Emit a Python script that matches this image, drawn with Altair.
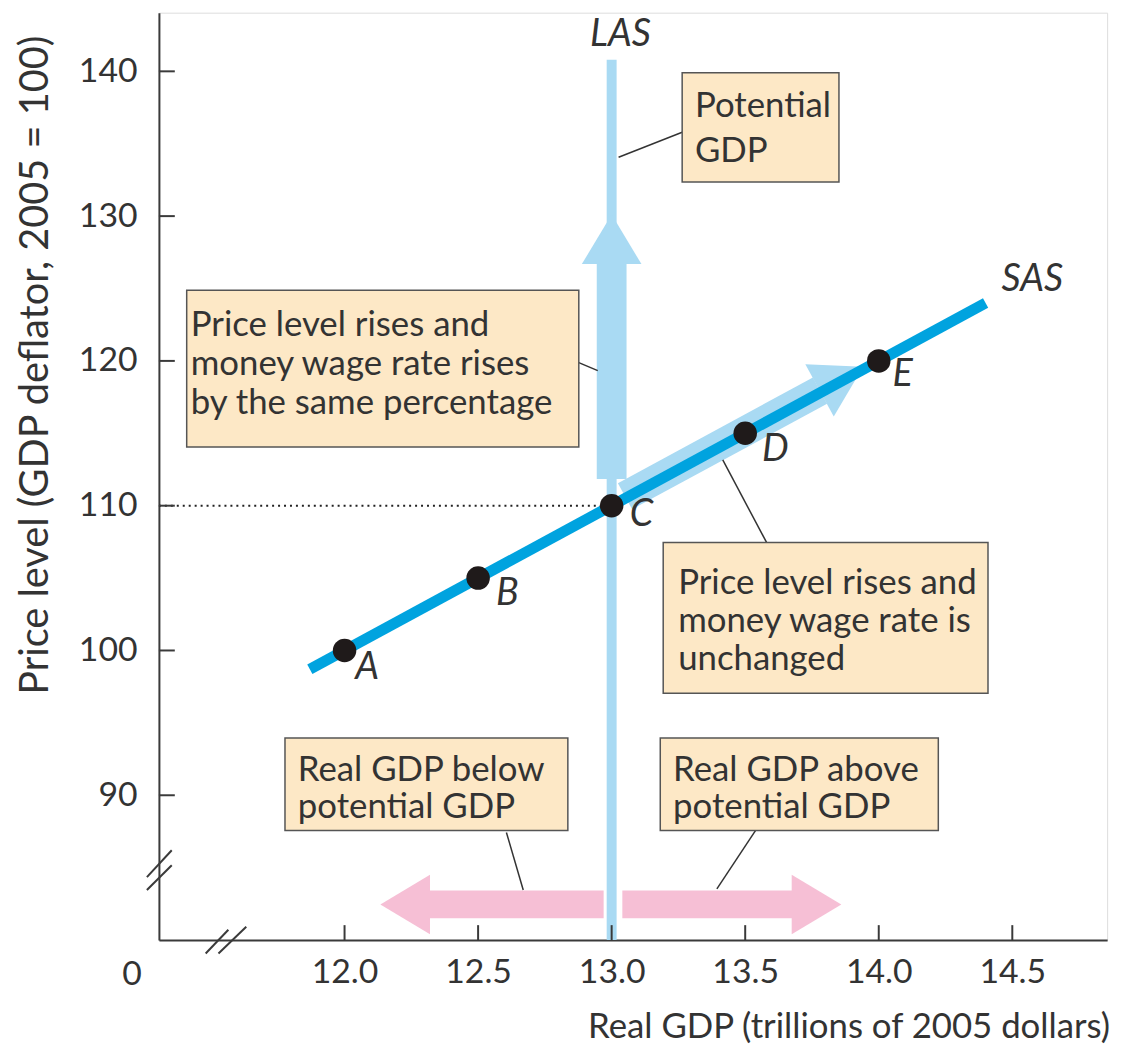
import altair as alt
import pandas as pd

# ---------------- data ----------------
point_labels = ["A", "B", "C", "D", "E"]
point_gdp = [12.0, 12.5, 13.0, 13.5, 14.0]
point_price = [100, 105, 110, 115, 120]

sas_gdp = [11.87, 14.40]
sas_price = [98.7, 124.0]

las_gdp = [13.0, 13.0]
las_price = [80.0, 140.8]

x_ticks = [12.0, 12.5, 13.0, 13.5, 14.0, 14.5]
y_ticks = [90, 100, 110, 120, 130, 140]

# label positions (data space)
lab_x = [12.085, 12.61, 13.112, 13.613, 14.089]
lab_y = [98.75, 103.9, 109.38, 113.84, 119.05]

curve_names = ["LAS", "SAS"]
curve_lab_x = [13.033, 14.575]
curve_lab_y = [142.5, 125.6]

# annotation boxes
box_x = [13.264, 11.409, 13.193, 11.777, 13.182]
box_x2 = [13.851, 12.877, 14.409, 12.836, 14.223]
box_y = [139.9, 124.88, 107.46, 93.95, 93.95]
box_y2 = [132.36, 114.05, 97.04, 87.57, 87.57]

box_lines = [
    "Potential", "GDP",
    "Price level rises and", "money wage rate rises", "by the same percentage",
    "Price level rises and", "money wage rate is", "unchanged",
    "Real GDP below", "potential GDP",
    "Real GDP above", "potential GDP",
]
box_line_x = [13.312, 13.312,
              11.424, 11.424, 11.424,
              13.249, 13.249, 13.249,
              11.825, 11.825,
              13.230, 13.230]
box_line_y = [136.82, 133.73,
              121.73, 119.05, 116.36,
              103.90, 101.29, 98.68,
              91.00, 88.40,
              91.00, 88.40]

# leader lines
lead_x = [13.026, 12.877, 13.416, 12.606, 13.539]
lead_y = [134.07, 119.88, 113.16, 87.43, 87.57]
lead_x2 = [13.264, 12.948, 13.580, 12.669, 13.394]
lead_y2 = [135.79, 119.33, 107.46, 83.46, 83.53]

# ---------------- styling ----------------
FONT = "Lato"
TXT = "#333333"
AX = "#3a3a3a"
SAS_BLUE = "#00a3df"
LIGHT_BLUE = "#a9daf3"
PINK = "#f6bfd5"
BOX_FILL = "#fde8c6"

x_scale = alt.Scale(domain=[11.305, 14.855], nice=False, zero=False)
y_scale = alt.Scale(domain=[80, 144.05], nice=False, zero=False)

x_axis = alt.Axis(values=x_ticks, format=".1f", ticks=False, grid=False, title=None,
                  domainColor=AX, domainWidth=2, labelFont=FONT, labelFontSize=34,
                  labelColor=TXT, labelPadding=16, labelFlush=False)
y_axis = alt.Axis(values=y_ticks, format="d", ticks=False, grid=False, title=None,
                  domainColor=AX, domainWidth=2, labelFont=FONT, labelFontSize=34,
                  labelColor=TXT, labelPadding=22)


def X(f):
    return alt.X(f, type="quantitative", scale=x_scale, axis=x_axis)


def Y(f):
    return alt.Y(f, type="quantitative", scale=y_scale, axis=y_axis)


# ---------------- layers ----------------
sas_df = pd.DataFrame({"x": sas_gdp, "y": sas_price})
las_df = pd.DataFrame({"x": las_gdp, "y": las_price})

las = alt.Chart(las_df).mark_line(color=LIGHT_BLUE, strokeWidth=10, strokeCap="butt").encode(
    x=X("x"), y=Y("y"))

# arrows (shafts)
shaft_df = pd.DataFrame({
    "x": [12.97, 13.04, 13.0, 13.05],
    "x2": [12.30, 13.69, 13.0, 13.78],
    "y": [82.46, 82.46, 111.85, 110.65],
    "y2": [82.46, 82.46, 126.8, 117.95],
    "c": ["pink", "pink", "blue", "blue"],
    "w": [28, 28, 30, 30],
})
shafts = alt.Chart(shaft_df).mark_rule(strokeCap="butt").encode(
    x=X("x"), x2="x2", y=Y("y"), y2="y2",
    color=alt.Color("c:N", scale=alt.Scale(domain=["pink", "blue"], range=[PINK, LIGHT_BLUE]), legend=None),
    strokeWidth=alt.StrokeWidth("w:Q", scale=None, legend=None),
)

HEAD = "M 0.833 0 L -0.833 -1 L -0.833 1 Z"
head_df = pd.DataFrame({
    "x": [12.227, 13.767, 13.0, 13.86],
    "y": [82.46, 82.46, 128.4, 118.78],
    "a": [180, 0, 270, 331.5],
    "c": ["pink", "pink", "blue", "blue"],
})
heads = alt.Chart(head_df).mark_point(shape=HEAD, filled=True, opacity=1, size=3600, strokeWidth=0).encode(
    x=X("x"), y=Y("y"),
    angle=alt.Angle("a:Q", scale=None),
    color=alt.Color("c:N", scale=alt.Scale(domain=["pink", "blue"], range=[PINK, LIGHT_BLUE]), legend=None),
)

sas = alt.Chart(sas_df).mark_line(color=SAS_BLUE, strokeWidth=11, strokeCap="butt").encode(
    x=X("x"), y=Y("y"))

dotted_df = pd.DataFrame({"x": [11.305], "x2": [12.96], "y": [110], "y2": [110]})
dotted = alt.Chart(dotted_df).mark_rule(color="#222222", strokeWidth=2, strokeDash=[2, 4]).encode(
    x=X("x"), x2="x2", y=Y("y"))

pts_df = pd.DataFrame({"x": point_gdp, "y": point_price, "lab": point_labels,
                       "lx": lab_x, "ly": lab_y})
pts = alt.Chart(pts_df).mark_circle(color="#1f1a1a", size=560, opacity=1).encode(
    x=X("x"), y=Y("y"))
pt_labels = alt.Chart(pts_df).mark_text(font=FONT, fontSize=38, fontStyle="italic", color=TXT,
                                        align="center", baseline="middle").encode(
    x=X("lx"), y=Y("ly"), text="lab:N")

curve_df = pd.DataFrame({"x": curve_lab_x, "y": curve_lab_y, "t": curve_names})
curve_labels = alt.Chart(curve_df).mark_text(font=FONT, fontSize=38, fontStyle="italic", color=TXT,
                                             align="center", baseline="middle").encode(
    x=X("x"), y=Y("y"), text="t:N")

box_df = pd.DataFrame({"x": box_x, "x2": box_x2, "y": box_y, "y2": box_y2})
boxes = alt.Chart(box_df).mark_rect(fill=BOX_FILL, stroke="#555555", strokeWidth=1.5).encode(
    x=X("x"), x2="x2", y=Y("y"), y2="y2")

lead_df = pd.DataFrame({"x": lead_x, "y": lead_y, "x2": lead_x2, "y2": lead_y2})
leads = alt.Chart(lead_df).mark_rule(color="#333333", strokeWidth=1.5).encode(
    x=X("x"), x2="x2", y=Y("y"), y2="y2")

text_df = pd.DataFrame({"x": box_line_x, "y": box_line_y, "t": box_lines})
box_text = alt.Chart(text_df).mark_text(font=FONT, fontSize=35, color=TXT, align="left",
                                        baseline="alphabetic").encode(
    x=X("x"), y=Y("y"), text="t:N")

# inward ticks
xt_df = pd.DataFrame({"v": x_ticks})
x_tick_marks = alt.Chart(xt_df).mark_rule(color=AX, strokeWidth=2).encode(
    x=X("v"), y=alt.value(934), y2=alt.value(919))
yt_df = pd.DataFrame({"v": y_ticks})
y_tick_marks = alt.Chart(yt_df).mark_rule(color=AX, strokeWidth=2).encode(
    y=Y("v"), x=alt.value(0), x2=alt.value(16))

# axis break slashes
brk_df = pd.DataFrame({
    "x": [11.260, 11.260, 11.480, 11.528],
    "y": [84.35, 83.46, 79.07, 79.07],
    "x2": [11.353, 11.353, 11.565, 11.632],
    "y2": [86.20, 85.17, 80.71, 80.92],
})
breaks = alt.Chart(brk_df).mark_rule(color=AX, strokeWidth=2).encode(
    x=X("x"), x2="x2", y=Y("y"), y2="y2")

# titles and zero label
title_df = pd.DataFrame({"t": ["Real GDP (trillions of 2005 dollars)"]})
x_title = alt.Chart(title_df).mark_text(font=FONT, fontSize=35, color=TXT, align="right",
                                        baseline="middle").encode(
    x=alt.value(958), y=alt.value(1022), text="t:N")
ytitle_df = pd.DataFrame({"t": ["Price level (GDP deflator, 2005 = 100)"]})
y_title = alt.Chart(ytitle_df).mark_text(font=FONT, fontSize=40, color=TXT, align="center",
                                         baseline="middle", angle=270).encode(
    x=alt.value(-124), y=alt.value(355), text="t:N")
zero_df = pd.DataFrame({"t": ["0"]})
zero = alt.Chart(zero_df).mark_text(font=FONT, fontSize=34, color=TXT, align="center",
                                    baseline="middle").encode(
    x=alt.value(-27), y=alt.value(969), text="t:N")

chart = alt.layer(
    las, shafts, heads, sas, dotted, pts, pt_labels, curve_labels,
    leads, boxes, box_text, x_tick_marks, y_tick_marks, breaks, x_title, y_title, zero,
).properties(
    width=955, height=934,
    autosize=alt.AutoSizeParams(type="none"),
    padding={"left": 152, "top": 1, "right": 17, "bottom": 105},
).configure_view(strokeWidth=0).configure(background="white")

chart.save("out.html", embed_options={"renderer": "svg", "actions": False})
